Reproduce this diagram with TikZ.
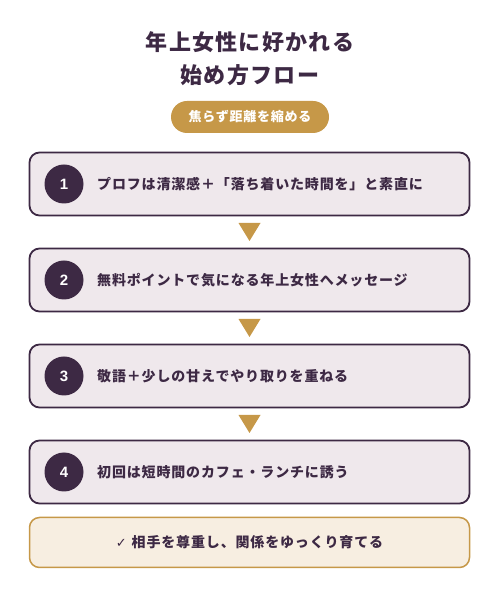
\documentclass[tikz,border=0pt]{standalone}
\usepackage{fontspec}
\setmainfont{Noto Sans CJK JP}[LetterSpace=6]
\newfontfamily\symfont{DejaVu Sans}
\newfontfamily\numfont{Liberation Sans}
\usepackage{tikz}
\usetikzlibrary{calc}

\definecolor{plum}{HTML}{3D2944}
\definecolor{boxfill}{HTML}{EFE8EC}
\definecolor{gold}{HTML}{C69848}
\definecolor{notefill}{HTML}{F7EEE1}

\tikzset{
    stepbox/.style={draw=plum, line width=1.8pt, fill=boxfill, rounded corners=10pt,
        minimum width=440pt, minimum height=63pt},
    numdot/.style={circle, fill=plum, minimum size=39pt, inner sep=0pt,
        text=white, font=\numfont\bfseries\fontsize{15}{17}\selectfont},
    steptext/.style={anchor=west, inner sep=0pt, text=plum, font=\bfseries\fontsize{14}{16}\selectfont}
}

\begin{document}
\begin{tikzpicture}[x=1pt, y=1pt]
        \useasboundingbox (0,0) rectangle (500,600);

        % Title and badge
        \node (title1) at (250,558) {\bfseries\fontsize{22}{26}\selectfont\color{plum}年上女性に好かれる};
        \node (title2) at (250,525) {\bfseries\fontsize{22}{26}\selectfont\color{plum}始め方フロー};
        \node[fill=gold, rounded corners=16pt, minimum width=158pt, minimum height=32pt, text=white,
            font=\bfseries\fontsize{13}{15}\selectfont] (badge) at (250,483) {焦らず距離を縮める};

        % Steps
        \foreach \i/\y/\t in {1/416/{プロフは清潔感＋「落ち着いた時間を」と素直に},
                              2/320/{無料ポイントで気になる年上女性へメッセージ},
                              3/224/{敬語＋少しの甘えでやり取りを重ねる},
                              4/128/{初回は短時間のカフェ・ランチに誘う}}
        {
            \node[stepbox] (s\i) at (249.5,\y) {};
            \node[numdot] (n\i) at (64,\y) {\i};
            \node[steptext] (t\i) at (97,\y) {\t};
        }

        % Arrows between steps
        \foreach \i/\j in {1/2,2/3,3/4}
            \fill[gold] ($(s\i.south)!0.5!(s\j.north)+(-11,9)$) -- ++(22,0) -- ++(-11,-18) -- cycle;

        % Closing note
        \node[draw=gold, line width=1.5pt, fill=notefill, rounded corners=10pt, minimum width=440pt,
            minimum height=50pt, text=plum, font=\bfseries\fontsize{14}{16}\selectfont] (note) at (249.5,57.5)
            {{\symfont\mdseries\fontsize{13}{15}\selectfont ✓}\hspace{5pt}相手を尊重し、関係をゆっくり育てる};
\end{tikzpicture}
\end{document}
